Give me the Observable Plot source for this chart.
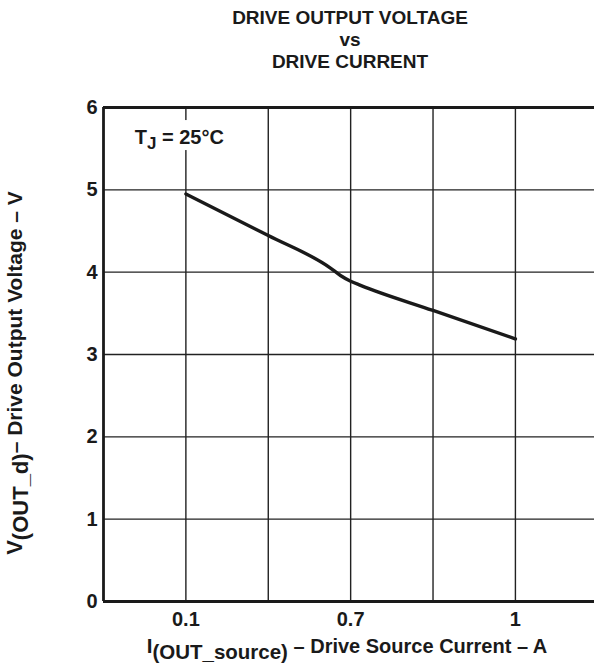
<!DOCTYPE html>
<html>
<head>
<meta charset="utf-8">
<script src="https://cdn.jsdelivr.net/npm/d3@7"></script>
<script src="https://cdn.jsdelivr.net/npm/@observablehq/plot@0.6"></script>
<style>
  body { margin: 0; background: #fff; font-family: "Liberation Sans", Arial, Helvetica, sans-serif; }
  #wrap { position: relative; width: 594px; height: 668px; overflow: hidden; }
  #title { position: absolute; left: 0; top: 0; width: 594px; height: 90px; padding-left: 106px; box-sizing: border-box;
           text-align: center; font-weight: bold; font-size: 19px; line-height: 22px; color: #1a1a1a; padding-top: 7px; }
  #chart { position: absolute; left: 0; top: 90px; width: 594px; }
</style>
</head>
<body>
<div id="wrap">
  <div id="title">DRIVE OUTPUT VOLTAGE<br>vs<br>DRIVE CURRENT</div>
  <div id="chart"></div>
</div>
<script>
// Tick positions (equal-spaced grid columns) and labels
const xTickPos = [1, 3, 5];
const xTickLabels = ["0.1", "0.7", "1"];
const xGrid = [1, 2, 3, 4, 5];
const yTicks = [0, 1, 2, 3, 4, 5, 6];
const yGrid = [1, 2, 3, 4, 5];

// Curve (x in grid-column units, y in volts)
const curveX = [1.0, 2.0, 2.755, 2.876, 3.0, 3.12, 4.0, 5.0];
const curveY = [4.95, 4.445, 4.05, 3.96, 3.89, 3.84, 3.535, 3.19];
const curve = curveX.map((x, i) => ({x, y: curveY[i]}));

const FONT = '"Liberation Sans", Arial, Helvetica, sans-serif';
const INK = "#1a1a1a";

const plot = Plot.plot({
  width: 594,
  height: 578,
  marginTop: 17,
  marginBottom: 67,
  marginLeft: 103,
  marginRight: 0,
  style: {fontFamily: FONT, color: INK, background: "white"},
  x: {domain: [0, 5.96], axis: null},
  y: {domain: [0, 6], axis: null},
  marks: [
    Plot.gridX(xGrid, {stroke: "#222", strokeOpacity: 1, strokeWidth: 1.4}),
    Plot.gridY(yGrid, {stroke: "#222", strokeOpacity: 1, strokeWidth: 1.4}),
    Plot.ruleX([0], {stroke: INK, strokeWidth: 2.8}),
    Plot.ruleY([0, 6], {stroke: INK, strokeWidth: 2.8}),
    Plot.axisX(xTickPos, {tickSize: 0, tickPadding: 10, fontSize: 20, fontWeight: "bold",
      tickFormat: (d) => xTickLabels[xTickPos.indexOf(d)], label: null}),
    Plot.axisY(yTicks, {tickSize: 0, tickPadding: 6, fontSize: 20, fontWeight: "bold",
      tickFormat: (d) => String(d), label: null}),
    Plot.line(curve, {x: "x", y: "y", stroke: INK, strokeWidth: 3.4, curve: "monotone-x"})
  ]
});
document.getElementById("chart").appendChild(plot);

// Labels with subscripts
const svg = d3.select(plot);
const sx = plot.scale("x"), sy = plot.scale("y");

// Annotation T_J = 25°C with white backing (grid line is interrupted there)
const ax = sx.apply(0.385), ay = sy.apply(5.55);
svg.append("rect").attr("x", ax - 3).attr("y", ay - 24).attr("width", 100).attr("height", 30).attr("fill", "white");
const ann = svg.append("text")
  .attr("x", ax).attr("y", ay).attr("text-anchor", "start")
  .attr("font-family", FONT).attr("font-weight", "bold").attr("font-size", 20).attr("fill", INK);
ann.append("tspan").text("T");
ann.append("tspan").attr("font-size", 17).attr("dy", 5).text("J");
ann.append("tspan").attr("dy", -5).text(" = 25°C");

// X label
const xl = svg.append("text")
  .attr("x", 347).attr("y", 563).attr("text-anchor", "middle")
  .attr("font-family", FONT).attr("font-weight", "bold").attr("font-size", 20.5).attr("fill", INK);
xl.append("tspan").text("I");
xl.append("tspan").attr("dy", 6).text("(OUT_source)");
xl.append("tspan").attr("dy", -6).attr("font-size", 20).text(" – Drive Source Current – A");

// Y label (rotated)
const yl = svg.append("text")
  .attr("transform", "translate(22,283) rotate(-90)").attr("text-anchor", "middle")
  .attr("font-family", FONT).attr("font-weight", "bold").attr("font-size", 22).attr("fill", INK);
yl.append("tspan").text("V");
yl.append("tspan").attr("dy", 6).text("(OUT_d)");
yl.append("tspan").attr("dy", -6).attr("font-size", 21).text("– Drive Output Voltage – V");
</script>
</body>
</html>
